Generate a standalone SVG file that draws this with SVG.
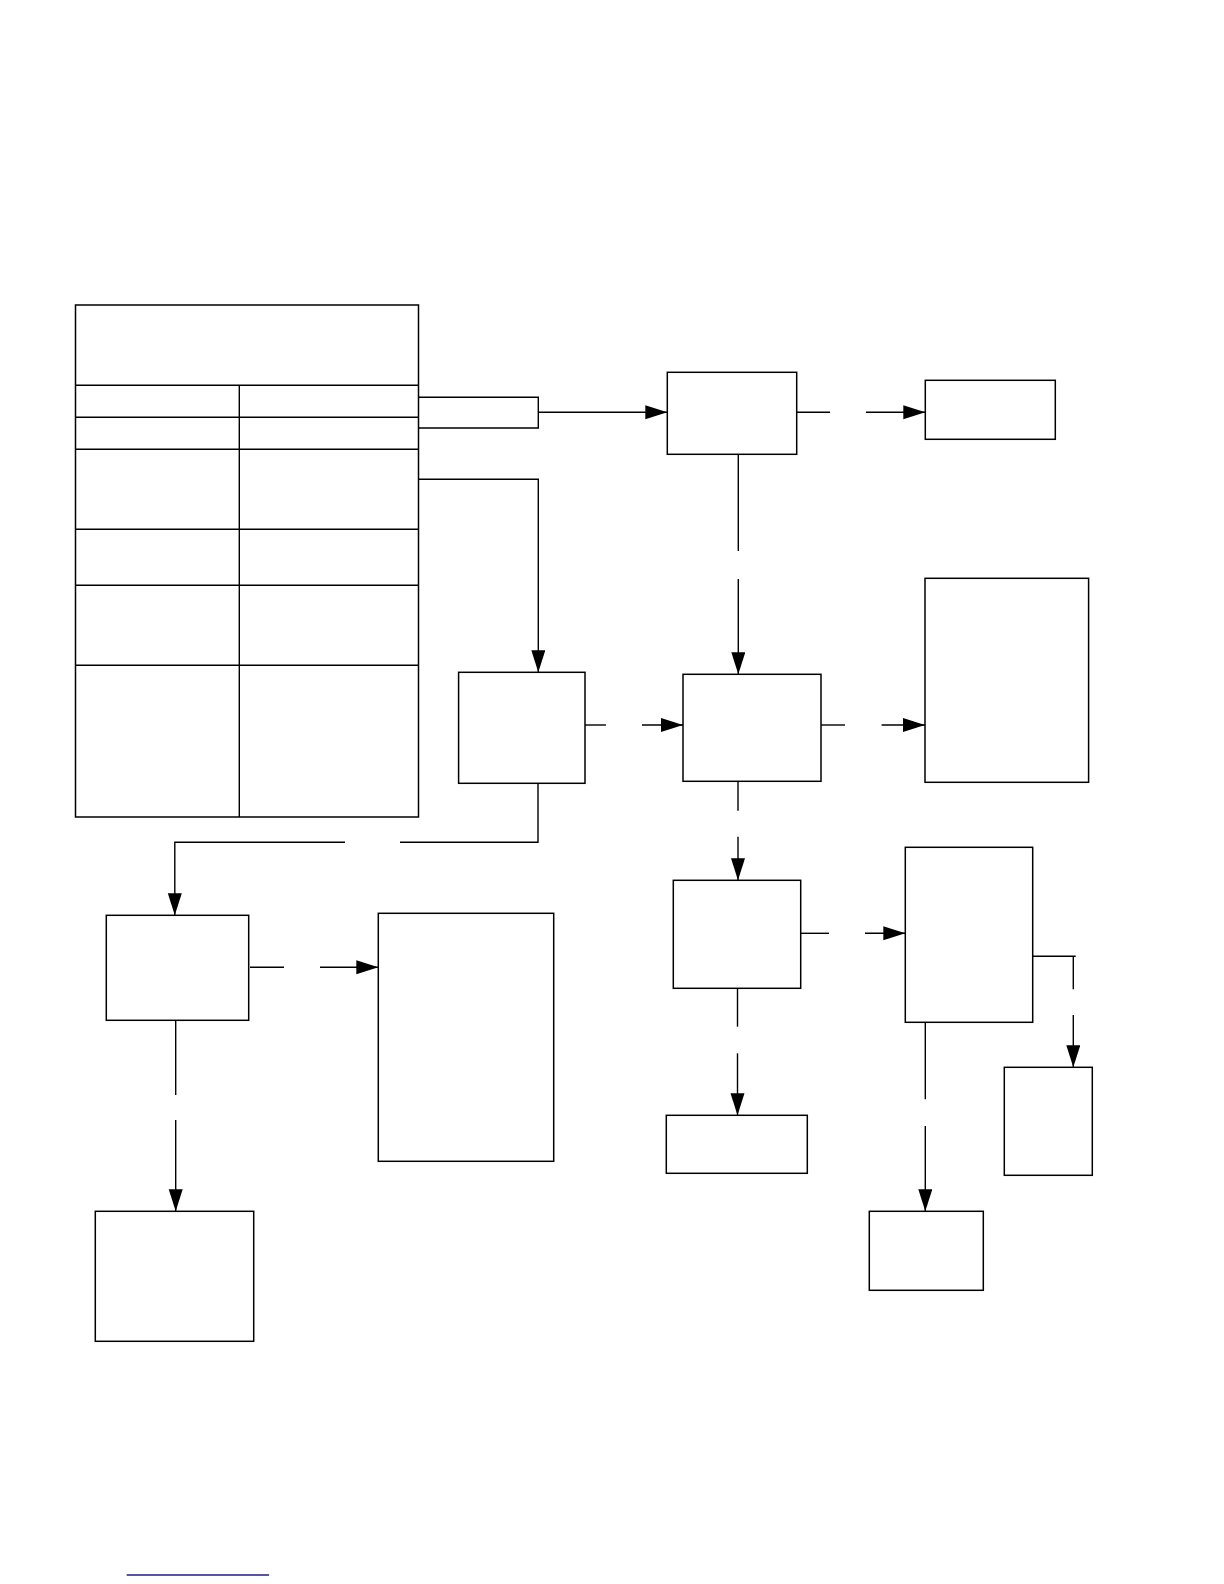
<svg xmlns="http://www.w3.org/2000/svg" width="1224" height="1584" viewBox="0 0 1224 1584">
<style>
.box{fill:#fff;stroke:#000;stroke-width:1.5}
.ln{fill:none;stroke:#000;stroke-width:1.4}
.arr{fill:none;stroke:#000;stroke-width:1.4;marker-end:url(#ah)}
</style>
<defs>
<marker id="ah" markerUnits="userSpaceOnUse" markerWidth="24" markerHeight="16" refX="22" refY="7" orient="auto">
<path d="M0,0 L22,7 L0,14 z" fill="#000"/>
</marker>
</defs>
<rect width="1224" height="1584" fill="#fff"/>
<g id="table">
<rect class="box" x="75.5" y="305" width="343" height="512"/>
<line class="ln" x1="75.5" y1="385.3" x2="418.5" y2="385.3"/>
<line class="ln" x1="75.5" y1="417.3" x2="418.5" y2="417.3"/>
<line class="ln" x1="75.5" y1="449.3" x2="418.5" y2="449.3"/>
<line class="ln" x1="75.5" y1="529.3" x2="418.5" y2="529.3"/>
<line class="ln" x1="75.5" y1="585.3" x2="418.5" y2="585.3"/>
<line class="ln" x1="75.5" y1="665.3" x2="418.5" y2="665.3"/>
<line class="ln" x1="239.3" y1="385.3" x2="239.3" y2="817"/>
</g>
<g id="n1"><rect class="box" x="667.3" y="372.3" width="129.4" height="82"/></g>
<g id="n2"><rect class="box" x="925.3" y="380.3" width="130" height="59"/></g>
<g id="n3"><rect class="box" x="458.6" y="672.3" width="126.4" height="111"/></g>
<g id="n4"><rect class="box" x="683" y="674.3" width="138" height="107"/></g>
<g id="n5"><rect class="box" x="925" y="578.3" width="163.6" height="204"/></g>
<g id="n6"><rect class="box" x="106.3" y="915.3" width="142.4" height="105"/></g>
<g id="n7"><rect class="box" x="378.3" y="913.3" width="175.4" height="248"/></g>
<g id="n8"><rect class="box" x="95.3" y="1211.3" width="158.4" height="130"/></g>
<g id="n9"><rect class="box" x="673.3" y="880.3" width="127.4" height="108"/></g>
<g id="n10"><rect class="box" x="905.3" y="847.3" width="127.4" height="175"/></g>
<g id="n11"><rect class="box" x="1004.3" y="1067.3" width="88" height="108"/></g>
<g id="n12"><rect class="box" x="666.3" y="1115.3" width="141" height="58"/></g>
<g id="n13"><rect class="box" x="869.3" y="1211.3" width="114" height="79"/></g>
<g id="connectors">
<polyline class="ln" points="418.5,397.3 538.3,397.3 538.3,428 418.5,428"/>
<line class="arr" x1="538.3" y1="412.3" x2="667.3" y2="412.3"/>
<polyline class="arr" points="418.5,479.3 538.3,479.3 538.3,672.3"/>
<line class="ln" x1="796.7" y1="412.3" x2="830" y2="412.3"/>
<line class="arr" x1="866" y1="412.3" x2="925.3" y2="412.3"/>
<line class="ln" x1="738.3" y1="454.3" x2="738.3" y2="551"/>
<line class="arr" x1="738.3" y1="579" x2="738.3" y2="674.3"/>
<line class="ln" x1="585" y1="725" x2="606" y2="725"/>
<line class="arr" x1="642" y1="725" x2="683" y2="725"/>
<line class="ln" x1="821" y1="725" x2="845" y2="725"/>
<line class="arr" x1="881.6" y1="725" x2="925" y2="725"/>
<polyline class="ln" points="538,783.3 538,842.3 400,842.3"/>
<polyline class="arr" points="345,842.3 174.8,842.3 174.8,915.3"/>
<line class="ln" x1="250" y1="967.3" x2="284" y2="967.3"/>
<line class="arr" x1="320" y1="967.3" x2="378.3" y2="967.3"/>
<line class="ln" x1="175.7" y1="1020.3" x2="175.7" y2="1095"/>
<line class="arr" x1="175.7" y1="1120" x2="175.7" y2="1211.3"/>
<line class="ln" x1="738" y1="781.3" x2="738" y2="810.7"/>
<line class="arr" x1="738" y1="836.7" x2="738" y2="880.3"/>
<line class="ln" x1="800.7" y1="933.3" x2="829" y2="933.3"/>
<line class="arr" x1="865" y1="933.3" x2="905.3" y2="933.3"/>
<polyline class="ln" points="1032.7,956.3 1075.7,956.3"/>
<line class="ln" x1="1073.3" y1="956.3" x2="1073.3" y2="989.3"/>
<line class="arr" x1="1073.3" y1="1015" x2="1073.3" y2="1067.3"/>
<line class="ln" x1="737.5" y1="988.3" x2="737.5" y2="1026.7"/>
<line class="arr" x1="737.5" y1="1053.3" x2="737.5" y2="1115.3"/>
<line class="ln" x1="925.3" y1="1022.3" x2="925.3" y2="1099.3"/>
<line class="arr" x1="925.3" y1="1126" x2="925.3" y2="1211.3"/>
</g>
<line x1="126.7" y1="1575" x2="269" y2="1575" stroke="#1c1c8a" stroke-width="1.3"/>
</svg>
